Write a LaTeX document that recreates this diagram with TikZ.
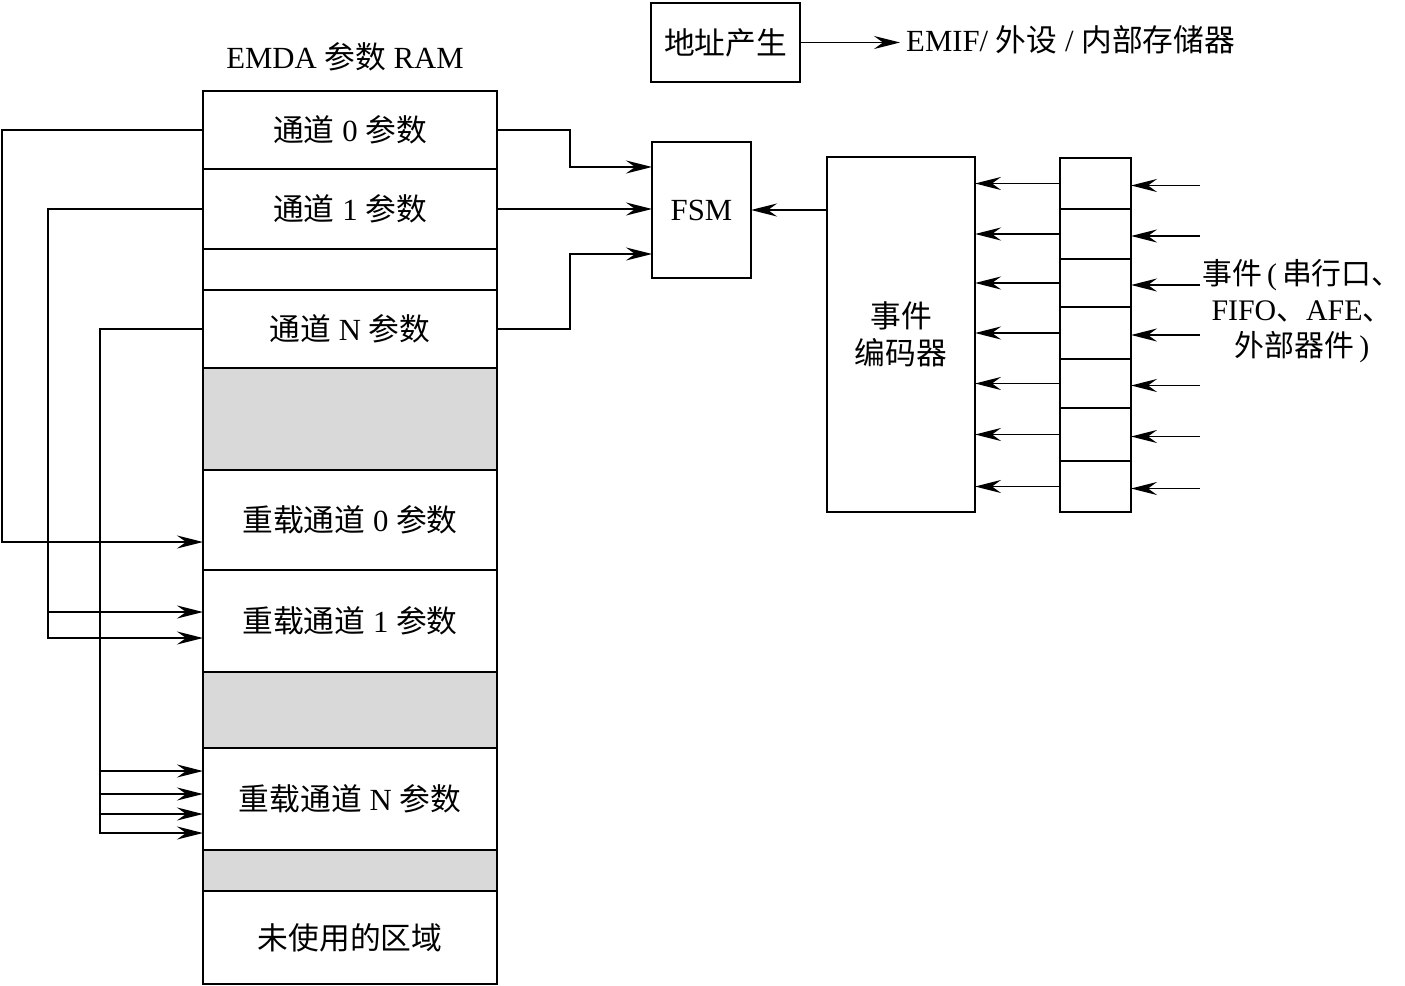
\documentclass[tikz,border=0pt]{standalone}
\usepackage{fontspec}
\setmainfont{Liberation Serif}
\newfontfamily\cjk{Noto Sans CJK SC}
\newcommand\zhtxt[1]{{\cjk #1}}
\usetikzlibrary{arrows.meta,calc}
\begin{document}
\begin{tikzpicture}[x=0.02cm,y=-0.02cm,
  font=\fontsize{17.5}{21}\selectfont,
  box/.style={draw, line width=1.6pt, inner sep=0pt, outer sep=0pt, anchor=north west},
  sz/.style args={#1x#2}{minimum width=#1*0.02cm, minimum height=#2*0.02cm},
  shaded/.style={box, fill=black!15},
  conn/.style={line width=1.1pt},
  arr/.style={conn, -{Stealth[length=5.2mm,width=2.6mm,inset=1.8mm]}}]
\useasboundingbox (0,0) rectangle (1405,986);

% RAM column
\node[box, sz=294x78] (r0) at (203,91) {\zhtxt{通道} 0 \zhtxt{参数}};
\node[box, sz=294x80] (r1) at (203,169) {\zhtxt{通道} 1 \zhtxt{参数}};
\node[box, sz=294x41] (rb) at (203,249) {};
\node[box, sz=294x78] (rN) at (203,290) {\zhtxt{通道} N \zhtxt{参数}};
\node[shaded, sz=294x102] (g1) at (203,368) {};
\node[box, sz=294x100] (rr0) at (203,470) {\zhtxt{重载通道} 0 \zhtxt{参数}};
\node[box, sz=294x102] (rr1) at (203,570) {\zhtxt{重载通道} 1 \zhtxt{参数}};
\node[shaded, sz=294x76] (g2) at (203,672) {};
\node[box, sz=294x102] (rrN) at (203,748) {\zhtxt{重载通道} N \zhtxt{参数}};
\node[shaded, sz=294x41] (g3) at (203,850) {};
\node[box, sz=294x93] (un) at (203,891) {\zhtxt{未使用的区域}};
\node (title) at (345,57) {EMDA \zhtxt{参数} RAM};

% top
\node[box, sz=149x79] (addr) at (651,3) {\zhtxt{地址产生}};
\node[anchor=west] (emif) at (900,40) {EMIF/ \zhtxt{外设} / \zhtxt{内部存储器}};
\draw[arr] (addr.east) -- (addr.east -| emif.west);

% FSM and encoder
\node[box, sz=99x136] (fsm) at (652,142) {FSM};
\node[box, sz=148x355, align=center] (enc) at (827,157) {\zhtxt{事件}\\\zhtxt{编码器}};
\draw[arr] (enc.west |- fsm.east) -- (fsm.east);

% register
\node[box, sz=71x51] (c1) at (1060,158) {};
\node[box, sz=71x50] (c2) at (1060,209) {};
\node[box, sz=71x48] (c3) at (1060,259) {};
\node[box, sz=71x52] (c4) at (1060,307) {};
\node[box, sz=71x49] (c5) at (1060,359) {};
\node[box, sz=71x53] (c6) at (1060,408) {};
\node[box, sz=71x51] (c7) at (1060,461) {};
\foreach \i in {1,...,7}{
  \draw[arr] (c\i.west) -- (c\i.west -| enc.east);
  \draw[arr] ($(c\i.east)+(69,2)$) -- ($(c\i.east)+(0,2)$);
}
\node[align=center, inner sep=0pt, font=\fontsize{17}{20.5}\selectfont] (ev) at (1302,311)
  {\zhtxt{事件}\,(\,\zhtxt{串行口、}\\FIFO\zhtxt{、}AFE\zhtxt{、}\\\zhtxt{外部器件}\,)};

% RAM to FSM
\draw[arr] (r0.east) -| (570,167) -- (fsm.west |- 0,167);
\draw[arr] (r1.east) -- (r1.east -| fsm.west);
\draw[arr] (rN.east) -| (570,254) -- (fsm.west |- 0,254);

% reload links
\draw[arr] (r0.west) -| (2,542) -- (rr0.west |- 0,542);
\draw[arr] (r1.west) -| (48,638) -- (rr1.west |- 0,638);
\draw[arr] (48,612) -- (rr1.west |- 0,612);
\draw[arr] (rN.west) -| (100,833) -- (rrN.west |- 0,833);
\foreach \y in {771,794,814}{
  \draw[arr] (100,\y) -- (rrN.west |- 0,\y);
}
\end{tikzpicture}
\end{document}
